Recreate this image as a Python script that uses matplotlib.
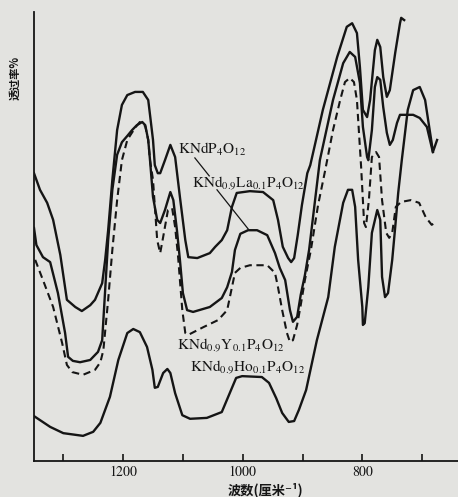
import numpy as np
import matplotlib
matplotlib.use("Agg")
import matplotlib.pyplot as plt

plt.rcParams["mathtext.fontset"] = "stix"

# wavenumber (cm-1) / transmittance (arbitrary %)
w_knd = [1349, 1339, 1327, 1317, 1305, 1294, 1280, 1269, 1255, 1247, 1235, 1230, 1225, 1218,
         1210, 1202, 1193, 1180, 1167, 1158, 1155, 1150, 1147, 1142, 1138, 1130, 1121, 1113,
         1105, 1096, 1091, 1076, 1055, 1046, 1035, 1026, 1018, 1010, 988, 966, 949, 941, 933,
         924, 919, 914, 908, 901, 892, 887, 866, 842, 826, 817, 809, 804, 799, 792, 787, 779,
         775, 770, 765, 759, 754, 745, 737, 735, 730]
t_knd = [64.1, 60.4, 57.5, 53.7, 45.9, 35.9, 34.3, 33.4, 34.7, 35.9, 39.6, 44.8, 51.4, 62.6,
         73.7, 79.3, 81.5, 82.2, 82.2, 80.4, 77.1, 71.5, 65.9, 64.1, 64.1, 67.0, 70.4, 67.7,
         58.8, 49.2, 45.4, 45.2, 46.3, 47.7, 49.2, 51.4, 56.6, 59.7, 60.1, 59.9, 58.1, 53.7, 47.7,
         45.2, 44.3, 45.2, 50.3, 57.0, 64.1, 65.9, 78.2, 90.0, 96.7, 97.5, 95.3, 87.7, 78.2, 76.6,
         80.4, 91.5, 93.8, 92.2, 85.5, 81.1, 82.6, 90.9, 97.5, 98.7, 98.2]

w_la = [1349, 1345, 1334, 1322, 1309, 1297, 1292, 1284, 1272, 1255, 1242, 1235, 1230, 1225,
        1218, 1210, 1202, 1193, 1185, 1177, 1168, 1163, 1158, 1155, 1150, 1143, 1138, 1130,
        1121, 1116, 1110, 1105, 1100, 1093, 1083, 1055, 1035, 1026, 1018, 1013, 1004, 991, 976,
        959, 946, 938, 929, 921, 916, 909, 903, 896, 889, 879, 871, 849, 832, 821, 812, 804,
        799, 792, 790, 784, 779, 775, 770, 765, 759, 754, 749, 742, 737, 715, 704, 692, 684, 682]
t_la = [51.9, 48.1, 45.4, 44.3, 37.4, 28.5, 23.2, 22.3, 22.0, 22.5, 24.3, 26.9, 38.1, 49.2,
        60.4, 68.2, 71.0, 72.4, 73.7, 74.8, 75.5, 74.8, 71.5, 67.0, 58.8, 53.7, 53.0, 55.9,
        59.9, 58.1, 51.4, 44.8, 37.4, 33.6, 33.2, 34.3, 36.3, 38.7, 42.1, 47.0, 50.6, 51.4, 51.4,
        50.3, 46.3, 43.0, 40.3, 33.6, 31.0, 32.1, 37.0, 41.4, 47.0, 58.1, 67.0, 80.4, 88.6, 91.1,
        90.0, 84.2, 74.4, 67.7, 67.0, 73.7, 83.3, 85.5, 84.9, 78.8, 73.1, 70.4, 71.5, 75.3, 77.1,
        77.1, 76.4, 74.4, 69.9, 68.8]

w_y = [1347, 1334, 1317, 1302, 1294, 1285, 1267, 1247, 1238, 1233, 1225, 1218, 1210, 1202,
       1193, 1180, 1172, 1163, 1158, 1155, 1150, 1143, 1138, 1133, 1125, 1118, 1113, 1108,
       1105, 1101, 1096, 1091, 1066, 1041, 1026, 1018, 1013, 1004, 988, 959, 946, 941, 934,
       926, 921, 916, 909, 903, 896, 886, 874, 862, 849, 837, 829, 821, 814, 809, 802, 797,
       794, 789, 784, 777, 772, 767, 760, 755, 750, 744, 735, 719, 705, 694, 684, 677]
t_y = [44.8, 40.3, 34.3, 26.3, 21.4, 19.8, 19.2, 20.3, 22.0, 24.7, 35.9, 47.0, 58.1, 67.0,
       71.5, 74.2, 75.5, 74.6, 71.5, 67.0, 62.6, 49.2, 46.3, 49.9, 55.9, 56.3, 52.1, 45.4,
       40.3, 33.6, 28.5, 28.1, 29.8, 31.4, 33.6, 38.7, 41.9, 43.0, 43.6, 43.6, 41.9, 38.7, 33.6,
       28.5, 26.5, 26.9, 30.3, 34.7, 40.3, 47.0, 57.0, 64.8, 73.7, 80.4, 84.4, 85.3, 84.4, 80.4,
       65.5, 53.0, 52.1, 58.1, 67.7, 68.8, 67.7, 58.1, 50.8, 49.7, 50.8, 56.6, 57.7, 58.1, 57.5,
       54.3, 52.6, 53.2]

w_ho = [1349, 1322, 1300, 1267, 1250, 1238, 1222, 1208, 1193, 1183, 1172, 1160, 1151, 1147,
        1142, 1133, 1126, 1121, 1113, 1101, 1088, 1060, 1035, 1023, 1011, 1001, 968, 956, 944,
        934, 923, 914, 906, 894, 876, 857, 846, 832, 824, 817, 812, 807, 800, 799, 796, 790,
        784, 775, 770, 767, 762, 757, 750, 745, 740, 734, 724, 715, 704, 695, 690, 684, 682, 675]
t_ho = [10.0, 7.6, 6.2, 5.6, 6.5, 8.5, 14.3, 22.5, 28.5, 29.4, 28.7, 25.4, 20.3, 16.3,
        16.5, 19.6, 20.5, 19.6, 15.1, 10.2, 9.4, 9.6, 10.9, 14.7, 18.5, 18.9, 18.7, 17.4, 14.0,
        10.7, 8.7, 8.9, 11.4, 15.8, 26.9, 36.5, 47.7, 57.5, 60.4, 60.4, 56.6, 44.8, 34.3, 30.3,
        30.7, 38.7, 50.8, 55.9, 53.7, 41.0, 36.5, 37.4, 44.8, 52.1, 59.7, 67.0, 78.2, 82.6, 83.3,
        80.4, 76.0, 70.8, 68.8, 71.5]

xticks = [1300, 1200, 1100, 1000, 900, 800, 700]
xticklabels = ["", "1200", "", "1000", "", "800", ""]

bg = "#e3e3e0"
ink = "#151515"

fig = plt.figure(figsize=(4.58, 4.97), dpi=100, facecolor=bg)
ax = fig.add_axes([34 / 458, 36 / 497, 1 - 34 / 458, 449 / 497])
ax.set_facecolor(bg)

ax.plot(w_knd, t_knd, color=ink, lw=1.7)
ax.plot(w_la, t_la, color=ink, lw=1.7)
ax.plot(w_y, t_y, color=ink, lw=1.5, linestyle=(0, (3.5, 2.2)))
ax.plot(w_ho, t_ho, color=ink, lw=1.7)

ax.set_xlim(1349, 640)
ax.set_ylim(0, 100)

ax.spines["top"].set_visible(False)
ax.spines["right"].set_visible(False)
ax.spines["left"].set_linewidth(1.3)
ax.spines["bottom"].set_linewidth(1.3)
ax.spines["left"].set_color(ink)
ax.spines["bottom"].set_color(ink)

ax.set_yticks([])
ax.set_xticks(xticks)
ax.set_xticklabels(xticklabels, fontfamily="STIXGeneral", fontsize=10, color=ink)
ax.tick_params(axis="x", direction="in", length=5, width=1.2, pad=3, colors=ink)

lab = dict(fontfamily="STIXGeneral", fontsize=11, color=ink, ha="left", va="center")
ax.text(1108, 69.3, r"KNdP$_4$O$_{12}$", **lab)
ax.text(1085, 61.9, r"KNd$_{0.9}$La$_{0.1}$P$_4$O$_{12}$", **lab)
ax.text(1110, 25.8, r"KNd$_{0.9}$Y$_{0.1}$P$_4$O$_{12}$", **lab)
ax.text(1088, 20.9, r"KNd$_{0.9}$Ho$_{0.1}$P$_4$O$_{12}$", **lab)

# leader line, broken where it passes the second label
ax.plot([1080, 1056], [67.5, 63.5], color=ink, lw=0.9)
ax.plot([1043, 991], [60.4, 51.7], color=ink, lw=0.9)

cjk = ["Noto Sans CJK SC", "DejaVu Sans"]
fig.text(15 / 458, 1 - 78 / 497, "透过率%", rotation=90, family=cjk,
         fontsize=8, fontweight="bold", color=ink, ha="center", va="center")
fig.text(265 / 458, 1 - 490 / 497, "波数(厘米⁻¹)", family=cjk,
         fontsize=9.5, fontweight="bold", color=ink, ha="center", va="center")

fig.savefig("out.png", dpi=100, facecolor=bg)
